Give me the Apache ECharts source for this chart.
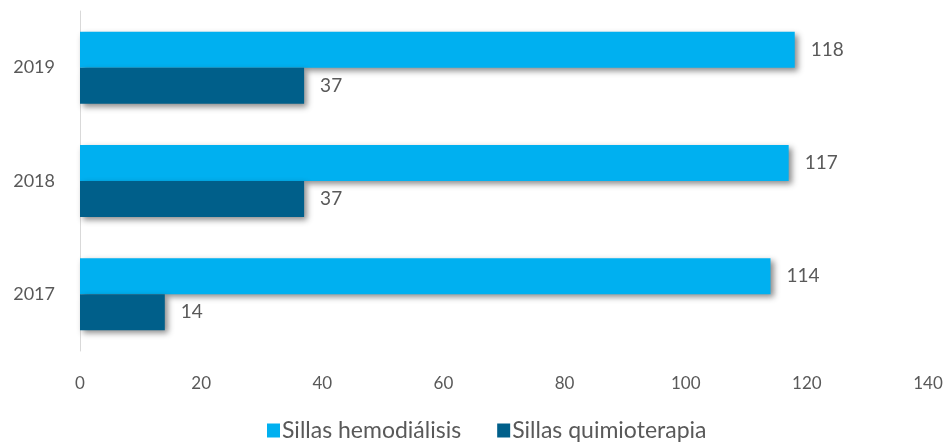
<!DOCTYPE html>
<html>
<head>
<meta charset="utf-8">
<script src="https://cdn.jsdelivr.net/npm/echarts@6/dist/echarts.min.js"></script>
<style>
  html, body { margin: 0; padding: 0; background: #fff; }
  #chart { width: 946px; height: 445px; }
</style>
</head>
<body>
<div id="chart"></div>
<script>
// datos
var years = ["2017", "2018", "2019"];
var hemodialisis = [114, 117, 118];
var quimioterapia = [14, 37, 37];
var seriesNames = ["Sillas hemodiálisis", "Sillas quimioterapia"];

var textColor = "#595959";
var fontFam = "Lato, 'Open Sans', sans-serif";

var chart = echarts.init(document.getElementById("chart"));

function barSeries(name, data, color) {
  return {
    name: name,
    type: "bar",
    data: data,
    barWidth: 36,
    barGap: "0%",
    itemStyle: {
      color: color,
      shadowColor: "rgba(0,0,0,0.45)",
      shadowBlur: 6,
      shadowOffsetX: 3,
      shadowOffsetY: 3
    },
    label: {
      show: true,
      position: "right",
      distance: 16,
      color: textColor,
      fontFamily: fontFam,
      fontSize: 19
    }
  };
}

chart.setOption({
  animation: false,
  textStyle: { fontFamily: fontFam },
  grid: { left: 80, right: 18, top: 11, bottom: 94 },
  legend: {
    bottom: -2,
    left: 262,
    itemWidth: 13,
    itemHeight: 14,
    itemGap: 36,
    icon: "rect",
    textStyle: { color: textColor, fontSize: 23, fontFamily: fontFam, padding: [0, 0, 0, -3] },
    data: seriesNames
  },
  xAxis: {
    type: "value",
    min: 0,
    max: 140,
    interval: 20,
    splitLine: { show: false },
    axisLine: { show: false },
    axisTick: { show: false },
    axisLabel: { color: textColor, fontSize: 17, margin: 24 }
  },
  yAxis: {
    type: "category",
    data: years,
    axisLine: { show: true, lineStyle: { color: "#d9d9d9", width: 1 } },
    axisTick: { show: false },
    axisLabel: { color: textColor, fontSize: 18, margin: 25 }
  },
  series: [
    barSeries(seriesNames[0], hemodialisis, "#00b0f0"),
    barSeries(seriesNames[1], quimioterapia, "#005f8a")
  ]
});
</script>
</body>
</html>
